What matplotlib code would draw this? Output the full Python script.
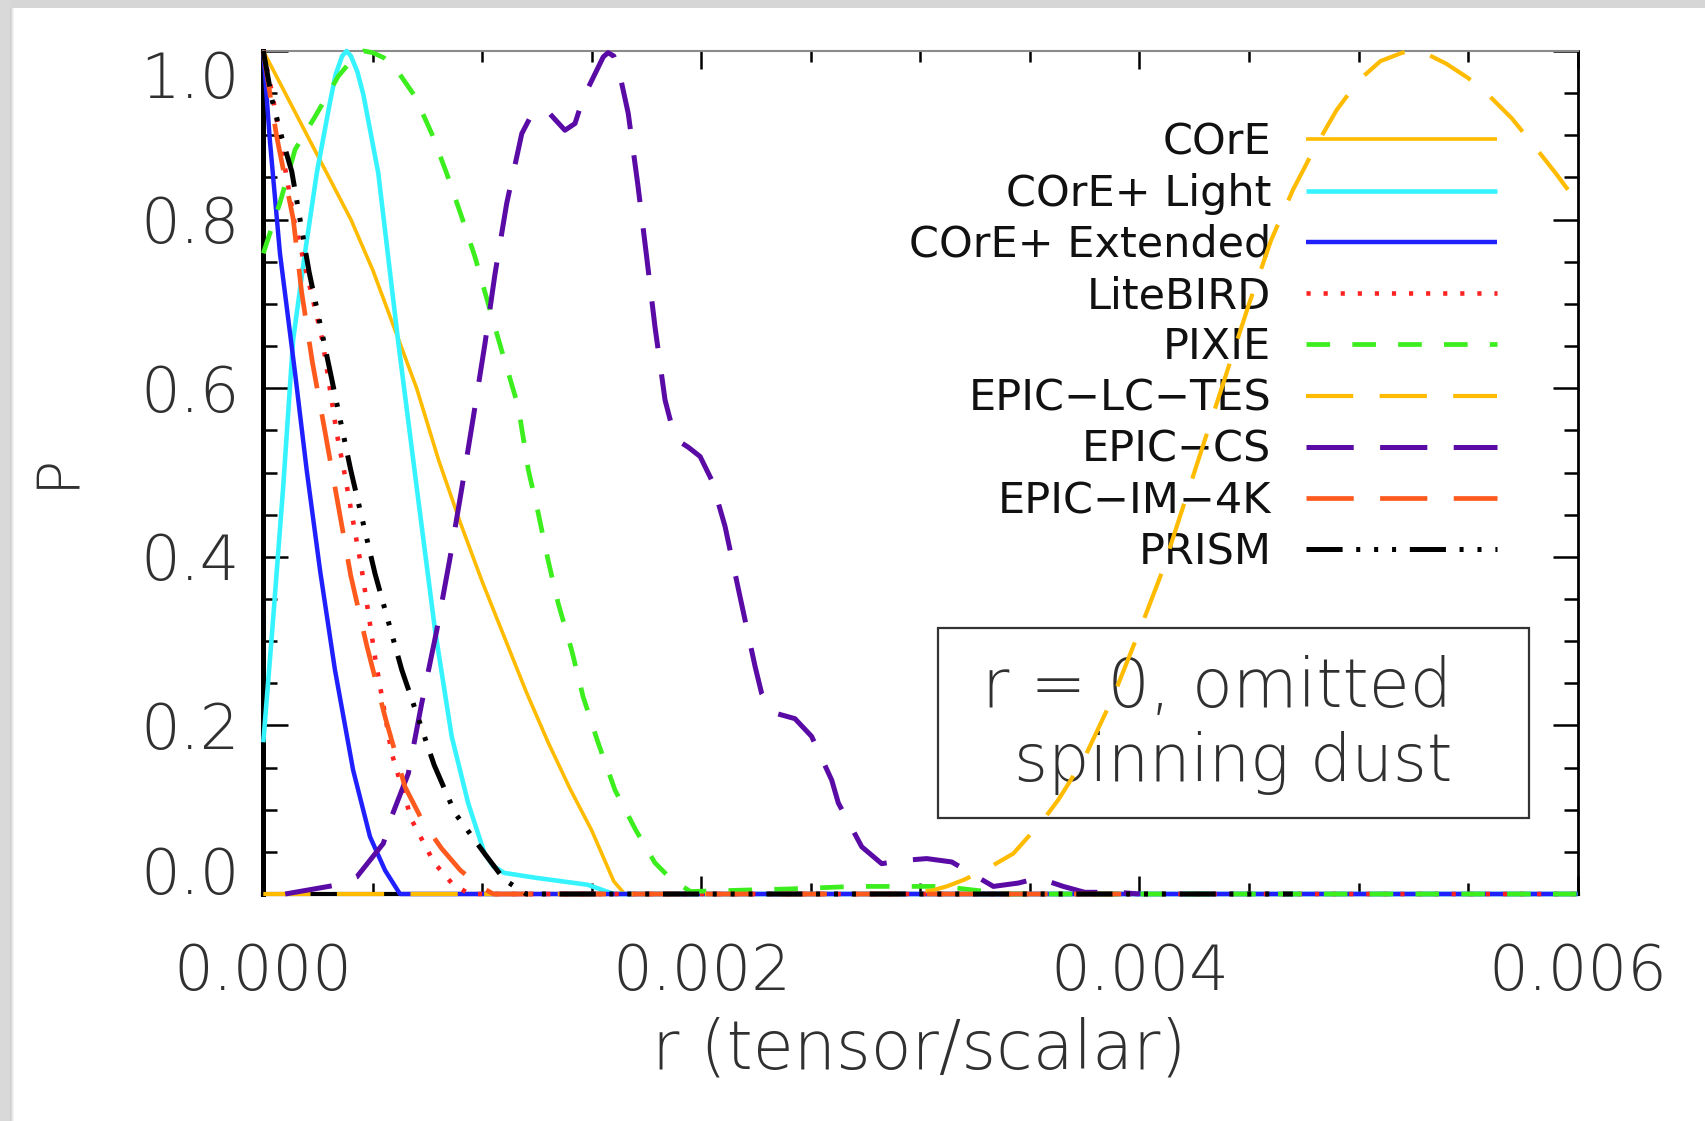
import matplotlib
matplotlib.use("Agg")
import matplotlib.pyplot as plt
from matplotlib import font_manager
from matplotlib.patches import Rectangle
from matplotlib.ticker import MultipleLocator, FixedLocator

plt.rcParams["font.family"] = ["DejaVu Sans"]
plt.rcParams["lines.scale_dashes"] = False

# ---------------------------------------------------------------------------
# Posterior curves P(r) for each mission (r = tensor-to-scalar ratio)
# ---------------------------------------------------------------------------
core_r = [0, 0.0001, 0.0002, 0.0003, 0.0004, 0.0005, 0.0006, 0.0007, 0.0008,
          0.0009, 0.0010, 0.0011, 0.0012, 0.0013, 0.0014, 0.0015, 0.0016,
          0.00165, 0.006]
core_p = [1.0, 0.95, 0.90, 0.85, 0.80, 0.74, 0.67, 0.60, 0.515,
          0.44, 0.37, 0.305, 0.24, 0.18, 0.125, 0.075, 0.015,
          0.0, 0.0]

light_r = [0, 0.00004, 0.00009, 0.000136, 0.00019, 0.000244, 0.000305, 0.00033,
           0.00036, 0.00038, 0.0004, 0.00043, 0.000457, 0.000525, 0.000615,
           0.0007, 0.000784, 0.00086, 0.000935, 0.00101, 0.00105, 0.0011,
           0.00125, 0.00148, 0.0016, 0.006]
light_p = [0.18, 0.31, 0.48, 0.657, 0.76, 0.855, 0.94, 0.972,
           0.994, 1.0, 0.994, 0.975, 0.948, 0.855, 0.657,
           0.483, 0.313, 0.187, 0.108, 0.048, 0.033, 0.025,
           0.019, 0.011, 0.0, 0.0]

ext_r = [0, 0.00003, 0.000076, 0.000145, 0.000198, 0.000259, 0.000327,
         0.00041, 0.000487, 0.000556, 0.000624, 0.006]
ext_p = [1.0, 0.894, 0.76, 0.618, 0.503, 0.384, 0.266,
         0.147, 0.068, 0.028, 0.0, 0.0]

lite_r = [0, 0.00004, 0.00014, 0.00027, 0.000335, 0.00037, 0.00045, 0.00051,
          0.000586, 0.000677, 0.00078, 0.00086, 0.00094, 0.006]
lite_p = [1.0, 0.95, 0.80, 0.657, 0.547, 0.50, 0.384, 0.281,
          0.167, 0.088, 0.037, 0.013, 0.0, 0.0]

pixie_r = [0, 0.000076, 0.000145, 0.000236, 0.000342, 0.0004, 0.00043, 0.00046,
           0.0005, 0.00055, 0.0006, 0.000693, 0.000769, 0.000837, 0.000906,
           0.000966, 0.001027, 0.001088, 0.001164, 0.00121, 0.001255, 0.0013,
           0.001346, 0.001408, 0.00146, 0.001529, 0.001606, 0.0017, 0.001788,
           0.001864, 0.00195, 0.0024, 0.0027, 0.0031, 0.0033, 0.0034, 0.006]
pixie_p = [0.76, 0.82, 0.883, 0.922, 0.97, 0.988, 0.996, 1.0,
           0.998, 0.992, 0.981, 0.946, 0.902, 0.855, 0.803,
           0.756, 0.70, 0.645, 0.578, 0.503, 0.452, 0.396,
           0.345, 0.289, 0.234, 0.179, 0.123, 0.076, 0.037,
           0.017, 0.003, 0.006, 0.009, 0.009, 0.003, 0.0, 0.0]

lctes_r = [0, 0.0029, 0.00305, 0.00312, 0.0032, 0.003318, 0.003424, 0.003561,
           0.00363, 0.003744, 0.00388, 0.004007, 0.0041, 0.0042, 0.0043,
           0.0044, 0.0045, 0.0046, 0.0047, 0.0048, 0.0049, 0.0050, 0.0051,
           0.0052, 0.00525, 0.0053, 0.0054, 0.0055, 0.0056, 0.0057, 0.0058,
           0.0059, 0.006]
lctes_p = [0.0, 0.0, 0.004, 0.009, 0.017, 0.032, 0.048, 0.088,
           0.112, 0.159, 0.234, 0.317, 0.38, 0.46, 0.54,
           0.62, 0.70, 0.775, 0.835, 0.885, 0.93, 0.965, 0.988,
           0.998, 1.0, 0.998, 0.985, 0.968, 0.946, 0.92, 0.888,
           0.855, 0.82]

cs_r = [0.0001, 0.00032, 0.000426, 0.000548, 0.000586, 0.000662, 0.000723,
        0.000792, 0.000852, 0.000906, 0.000959, 0.001012, 0.001058, 0.001111,
        0.00118, 0.00122, 0.001248, 0.00131, 0.001377, 0.001423, 0.00146,
        0.001552, 0.001574, 0.0016, 0.00162, 0.001666, 0.00171, 0.00175,
        0.001788, 0.001834, 0.00186, 0.00188, 0.00191, 0.00194, 0.001994,
        0.002047, 0.002108, 0.002176, 0.002245, 0.002275, 0.00231, 0.002344,
        0.002427, 0.002503, 0.002595, 0.002625, 0.002732, 0.002823, 0.00293,
        0.003029, 0.003143, 0.003333, 0.003447, 0.003538, 0.003652, 0.00375,
        0.0039, 0.004]
cs_p = [0.0, 0.01, 0.02, 0.06, 0.092, 0.143, 0.226,
        0.313, 0.398, 0.481, 0.566, 0.653, 0.736, 0.819,
        0.902, 0.922, 0.93, 0.925, 0.906, 0.914, 0.944,
        0.993, 0.998, 0.994, 0.981, 0.926, 0.841, 0.756,
        0.673, 0.586, 0.56, 0.545, 0.535, 0.53, 0.519,
        0.491, 0.436, 0.353, 0.27, 0.238, 0.222, 0.214,
        0.208, 0.187, 0.135, 0.108, 0.056, 0.036, 0.04,
        0.042, 0.038, 0.009, 0.013, 0.019, 0.009, 0.002,
        0.002, 0.0]

im4k_r = [0, 0.00006, 0.000137, 0.000175, 0.000224, 0.000282, 0.000342,
          0.000399, 0.000472, 0.000556, 0.000647, 0.00073, 0.000814, 0.0009,
          0.00099, 0.00105, 0.004]
im4k_p = [1.0, 0.90, 0.80, 0.714, 0.631, 0.548, 0.461,
          0.378, 0.295, 0.21, 0.127, 0.085, 0.054, 0.028,
          0.009, 0.0, 0.0]

prism_r = [0, 0.00004, 0.000084, 0.00013, 0.000209, 0.000305, 0.000399,
           0.00051, 0.000632, 0.00078, 0.000875, 0.00101, 0.0011, 0.0012,
           0.0047]
prism_p = [1.0, 0.942, 0.898, 0.857, 0.738, 0.62, 0.503,
           0.38, 0.266, 0.153, 0.096, 0.048, 0.017, 0.0,
           0.0]

labels = ["COrE", "COrE+ Light", "COrE+ Extended", "LiteBIRD", "PIXIE",
          "EPIC\u2212LC\u2212TES", "EPIC\u2212CS", "EPIC\u2212IM\u22124K", "PRISM"]

x_tick_values = [0.0, 0.002, 0.004, 0.006]
x_tick_labels = ["0.000", "0.002", "0.004", "0.006"]
y_tick_values = [0.0, 0.2, 0.4, 0.6, 0.8, 1.0]
y_tick_labels = ["0.0", "0.2", "0.4", "0.6", "0.8", "1.0"]

# ---------------------------------------------------------------------------
# Line styles (dash patterns in points)
# ---------------------------------------------------------------------------
long_dash = (0, (34, 19))
short_dash = (0, (17, 16))
dots = (0, (3.0, 9.3))
dash_3dot = (0, (26, 9.8, 2.9, 10, 2.9, 10, 2.9, 9.9))

series = [
    (core_r, core_p, dict(color="#FFBB00", lw=2.6, ls="-")),
    (light_r, light_p, dict(color="#36F4FF", lw=3.3, ls="-")),
    (ext_r, ext_p, dict(color="#2020FF", lw=3.2, ls="-")),
    (lite_r, lite_p, dict(color="#FF2222", lw=3.3, ls=dots)),
    (pixie_r, pixie_p, dict(color="#3CEE1E", lw=3.4, ls=short_dash)),
    (lctes_r, lctes_p, dict(color="#FFBB00", lw=3.0, ls=long_dash)),
    (cs_r, cs_p, dict(color="#5A0AA5", lw=3.6, ls=long_dash)),
    (im4k_r, im4k_p, dict(color="#FF5A1E", lw=3.4, ls=long_dash)),
    (prism_r, prism_p, dict(color="#000000", lw=3.6, ls=dash_3dot)),
]


def has_light(family):
    for f in font_manager.fontManager.ttflist:
        w = f.weight
        if not isinstance(w, int):
            w = font_manager.weight_dict.get(w, 400)
        if f.name == family and w < 400:
            return True
    return False


thin = "light" if has_light("DejaVu Sans") else "normal"
text_grey = "#303030"

W, H = 1706, 1121
fig = plt.figure(figsize=(W / 100, H / 100), dpi=100)
fig.patch.set_facecolor("white")

# window frame around the plot
fig.patches.append(Rectangle((0, 1 - 8 / H), 1, 8 / H, transform=fig.transFigure,
                             facecolor="#d6d6d6", edgecolor="none", zorder=0))
fig.patches.append(Rectangle((0, 0), 10 / W, 1, transform=fig.transFigure,
                             facecolor="#d9d9d9", edgecolor="none", zorder=0))
for i, c in enumerate(["#cfcfcf", "#dadada", "#e8e8e8", "#f4f4f4"]):
    fig.patches.append(Rectangle(((10 + i) / W, 0), 1 / W, 1 - 8 / H,
                                 transform=fig.transFigure, facecolor=c,
                                 edgecolor="none", zorder=0))

left, right, top, bottom = 263.3, 1577.6, 51.0, 894.0
ax = fig.add_axes([left / W, 1 - bottom / H, (right - left) / W, (bottom - top) / H])

handles = []
for k, (rr, pp, st) in enumerate(series):
    (ln,) = ax.plot(rr, pp, color=st["color"], lw=st["lw"], linestyle=st["ls"],
                    solid_capstyle="butt", dash_capstyle="butt",
                    solid_joinstyle="round", dash_joinstyle="round",
                    clip_on=False, zorder=3 + k * 0.1)
    handles.append(ln)

ax.set_xlim(0, 0.006)
ax.set_ylim(0, 1.0)

ax.xaxis.set_major_locator(FixedLocator(x_tick_values))
ax.set_xticklabels(x_tick_labels)
ax.xaxis.set_minor_locator(MultipleLocator(0.0005))
ax.yaxis.set_major_locator(FixedLocator(y_tick_values))
ax.set_yticklabels(y_tick_labels)
ax.yaxis.set_minor_locator(MultipleLocator(0.05))

ax.tick_params(axis="both", which="both", direction="in", top=True, right=True,
               colors="black", width=1.8, labelcolor=text_grey, labelsize=45)
ax.tick_params(axis="x", which="major", length=13, pad=35)
ax.tick_params(axis="x", which="minor", length=8)
ax.tick_params(axis="y", which="major", length=18, pad=17)
ax.tick_params(axis="y", which="minor", length=10)
for lab in ax.get_xticklabels() + ax.get_yticklabels():
    lab.set_fontweight(thin)

yt = ax.yaxis.get_major_ticks()
yt[0].label1.set_va("baseline")
yt[-1].label1.set_va("top")

ax.spines["left"].set_linewidth(3.6)
ax.spines["bottom"].set_linewidth(3.0)
ax.spines["right"].set_linewidth(2.0)
ax.spines["top"].set_linewidth(1.5)
ax.spines["top"].set_color("#8a8a8a")
for s in ax.spines.values():
    s.set_zorder(2.5)

ax.set_xlabel("r (tensor/scalar)", fontsize=48, color=text_grey, fontweight=thin)
ax.xaxis.set_label_coords(0.4989, -0.185)
ax.xaxis.label.set_va("center")
ax.set_ylabel("P", fontsize=42, color=text_grey, fontweight=thin)
ax.yaxis.set_label_coords(-0.1577, 0.502)
ax.yaxis.label.set_va("center")

leg = ax.legend(handles, labels, loc="upper right", bbox_to_anchor=(0.9387, 0.9165),
                frameon=False, markerfirst=False, handlelength=4.44,
                handletextpad=0.8, labelspacing=0.215, borderpad=0,
                borderaxespad=0, fontsize=31)
leg.set_zorder(1.6)
for t in leg.get_texts():
    t.set_color("#111111")

# annotation box
ax.add_patch(Rectangle((0.5134, 0.090), 0.963 - 0.5134, 0.3155 - 0.090,
                       transform=ax.transAxes, fill=False, edgecolor="#333333",
                       lw=1.6, zorder=1.5))
ax.text(0.9044, 0.2218, "r = 0, omitted", transform=ax.transAxes, ha="right",
        va="baseline", fontsize=48, color=text_grey, fontweight=thin, zorder=1.5)
ax.text(0.9044, 0.134, "spinning dust", transform=ax.transAxes, ha="right",
        va="baseline", fontsize=47, color=text_grey, fontweight=thin, zorder=1.5)

fig.savefig("out.png", dpi=100, facecolor="white")
